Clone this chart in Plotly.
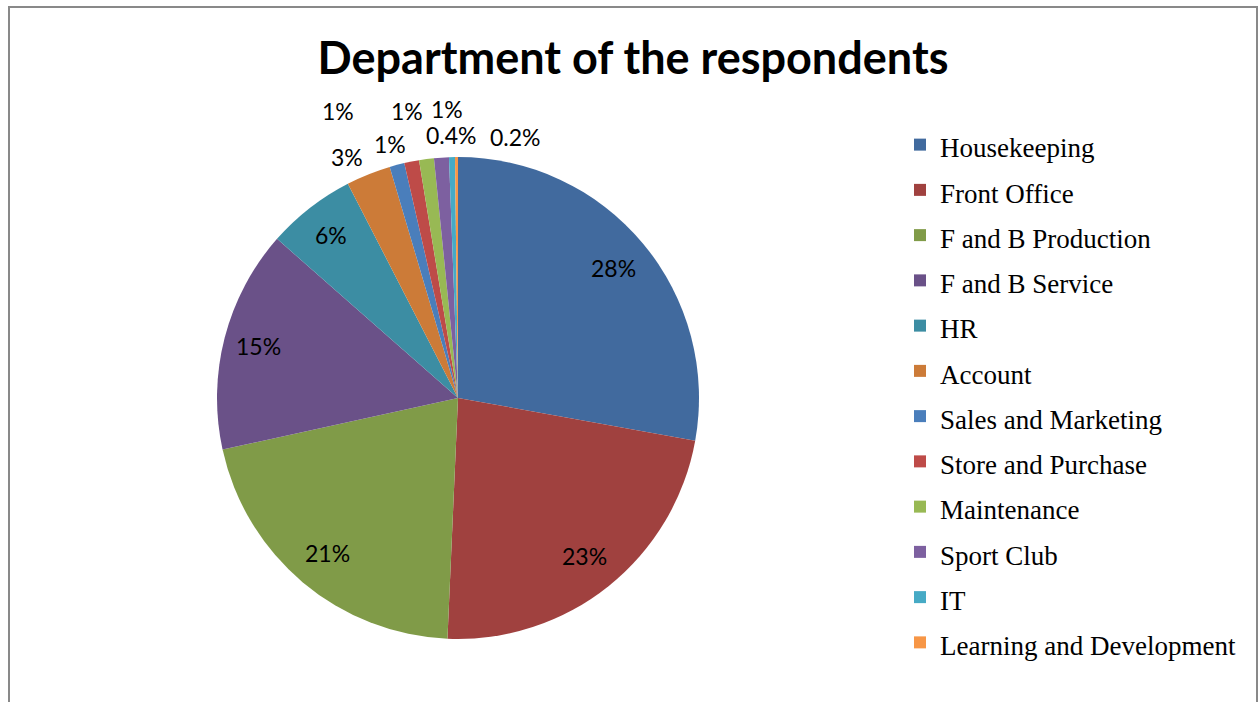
import math
import plotly.graph_objects as go

# Respondents by department (percent of total)
departments = [
    "Housekeeping", "Front Office", "F and B Production", "F and B Service",
    "HR", "Account", "Sales and Marketing", "Store and Purchase",
    "Maintenance", "Sport Club", "IT", "Learning and Development",
]
shares = [28, 23, 21, 15, 6, 3, 1, 1, 1, 1, 0.4, 0.2]

colors = [
    "#416A9E", "#A0413F", "#809B48", "#6A5188", "#3C8DA3", "#CC7B38",
    "#4A7EBB", "#BE4B48", "#98B954", "#7D60A0", "#46AAC5", "#F79646",
]

W, H = 1259, 702
CX, CY, R = 458, 398, 241          # pie centre / radius in pixels

# label placement: (radius factor, angular nudge in degrees)
label_place = [
    (0.84, 0), (0.84, 0), (0.84, 0), (0.855, 0), (0.86, 0),
    (1.10, -3), (1.29, -8), (1.09, -4), (1.21, -2.5), (1.20, 1.7),
    (1.09, 0), (1.11, 12.7),
]

fig = go.Figure(go.Pie(
    labels=[f'<span style="font-size:27px">{d}</span>' for d in departments],
    values=shares,
    sort=False,
    direction="clockwise",
    rotation=0,
    textinfo="none",
    marker=dict(colors=colors, line=dict(width=0)),
    domain=dict(x=[(CX - R) / W, (CX + R) / W],
                y=[(H - CY - R) / H, (H - CY + R) / H]),
    hoverinfo="label+value",
))

# percentage labels placed around the slice mid-angles
total = sum(shares)
cum = 0.0
for v, (k, nudge) in zip(shares, label_place):
    mid = (cum + v / 2) / total * 360 + nudge
    cum += v
    t = math.radians(mid)
    px = CX + k * R * math.sin(t)
    py = CY - k * R * math.cos(t)
    fig.add_annotation(
        x=px / W, y=1 - py / H, xref="paper", yref="paper",
        text=f"{v:g}%", showarrow=False, xanchor="center", yanchor="middle",
        font=dict(family="Lato", size=23, color="#000000"),
    )

# chart frame
fig.add_shape(type="rect", xref="paper", yref="paper",
              x0=9 / W, x1=1257 / W, y0=-0.2, y1=1 - 7 / H,
              line=dict(color="#898989", width=2), fillcolor="rgba(0,0,0,0)")

fig.update_layout(
    width=W, height=H,
    margin=dict(l=0, r=0, t=0, b=0),
    paper_bgcolor="white",
    plot_bgcolor="white",
    title=dict(
        text="<b>Department of the respondents</b>",
        x=633 / W, xanchor="center",
        y=1 - 58 / H, yanchor="middle",
        font=dict(family="Lato", size=45, color="#000000"),
    ),
    legend=dict(
        x=900 / W, xanchor="left",
        y=1 - 117 / H, yanchor="top",
        # legend font sets the row spacing; entry text is sized via span
        font=dict(family="Liberation Serif", size=32.5, color="#000000"),
        bgcolor="rgba(0,0,0,0)",
        itemclick=False,
    ),
    showlegend=True,
)

fig.write_html("out.html")
